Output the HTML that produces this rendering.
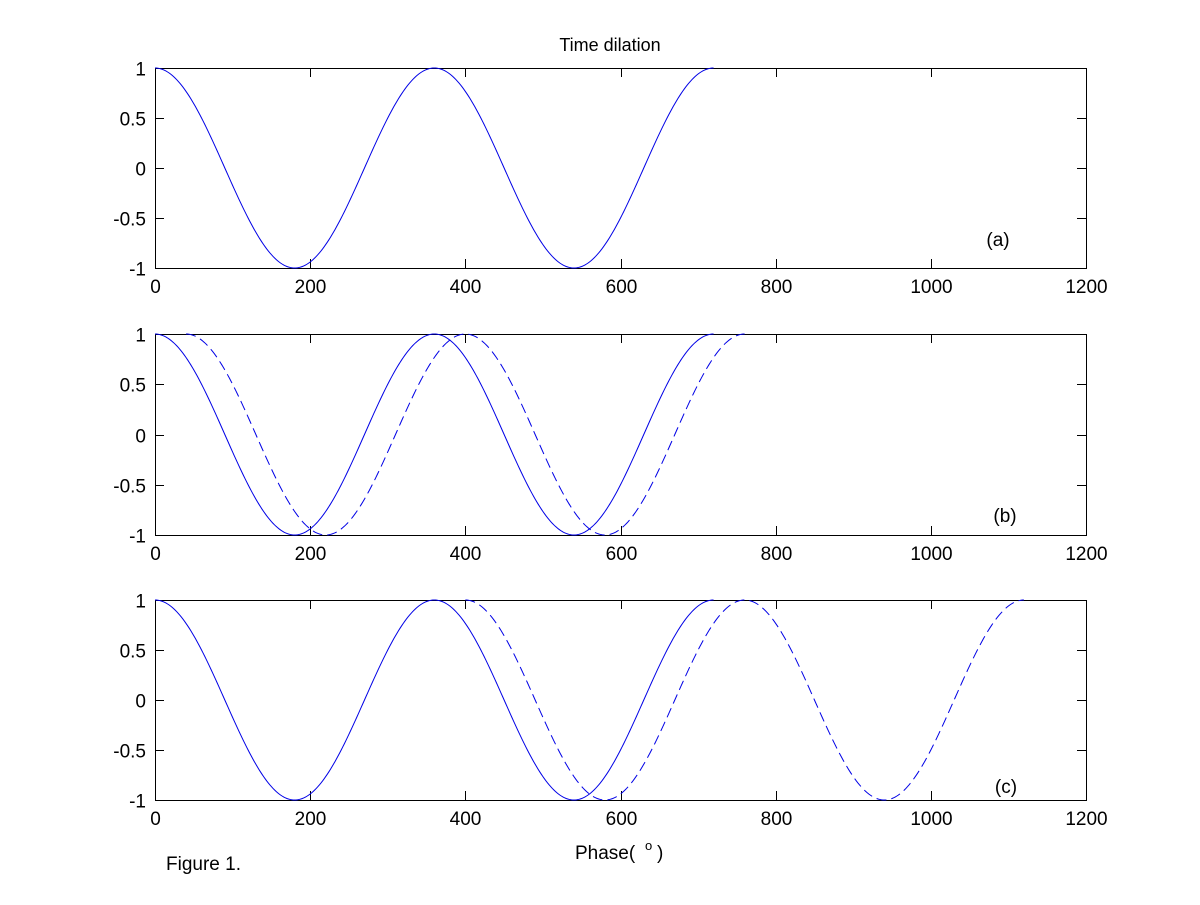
<!DOCTYPE html>
<html><head><meta charset="utf-8"><style>
html,body{margin:0;padding:0;background:#fff;}
svg text{font-family:"Liberation Sans",Arial,sans-serif;font-size:19px;fill:#000;}
</style></head><body>
<svg id="s" width="1200" height="900" xmlns="http://www.w3.org/2000/svg">
<rect width="1200" height="900" fill="#fff"/>
<text x="610" y="51" text-anchor="middle" style="font-size:18px">Time dilation</text>
<text x="575" y="859">Phase(</text><text x="657" y="859">)</text><text x="645" y="850" style="font-size:13px">o</text>
<text x="166" y="870">Figure 1.</text>
<text x="998" y="246" text-anchor="middle">(a)</text>
<text x="1005" y="522" text-anchor="middle">(b)</text>
<text x="1006" y="793" text-anchor="middle">(c)</text>
</svg>
<script>
var s=document.getElementById('s'),NS='http://www.w3.org/2000/svg';
var X0=155,X1=1086;
function el(t,a){var e=document.createElementNS(NS,t);for(var k in a)e.setAttribute(k,a[k]);s.appendChild(e);return e;}
function px(v){return X0+(X1-X0)*v/1200;}
function path(top,bot,start,end,shift,dash){
 var d='';for(var x=start;x<=end;x+=2){var y=Math.cos((x-shift)*Math.PI/180);
 d+=(x==start?'M':'L')+px(x).toFixed(2)+' '+(top+(1-y)/2*(bot-top)).toFixed(2);}
 var a={d:d,fill:'none',stroke:'#0000e6','stroke-width':1};if(dash)a['stroke-dasharray']='10,5';el('path',a);}
function panel(top,bot,series){
 el('rect',{x:X0+.5,y:top+.5,width:X1-X0,height:bot-top,fill:'none',stroke:'#000','stroke-width':1});
 for(var i=0;i<=6;i++){var x=Math.round(px(i*200))+.5;
  el('line',{x1:x,x2:x,y1:bot,y2:bot-9,stroke:'#000'});el('line',{x1:x,x2:x,y1:top,y2:top+9,stroke:'#000'});
  var t=el('text',{x:x,y:bot+25,'text-anchor':'middle'});t.textContent=i*200;}
 var labs=['1','0.5','0','-0.5','-1'];
 for(var j=0;j<5;j++){var y=Math.round(top+j*(bot-top)/4)+.5;
  el('line',{x1:X0,x2:X0+9,y1:y,y2:y,stroke:'#000'});el('line',{x1:X1-9,x2:X1,y1:y,y2:y,stroke:'#000'});
  var t=el('text',{x:146,y:y+7,'text-anchor':'end'});t.textContent=labs[j];}
 series.forEach(function(a){path(top,bot,a[0],a[1],a[2],a[3]);});
}
panel(68,268,[[0,720,0,false]]);
panel(334,535,[[0,720,0,false],[40,760,40,true]]);
panel(600,800,[[0,720,0,false],[400,1120,400,true]]);
</script>
</body></html>
